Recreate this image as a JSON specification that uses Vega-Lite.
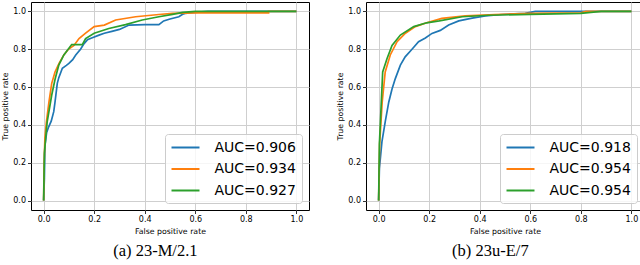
{
  "$schema": "https://vega.github.io/schema/vega-lite/v6.json",
  "padding": {"left": 1, "top": 1, "right": 0, "bottom": 0},
  "background": "white",
  "spacing": 26,
  "datasets": {
    "roc": [
      {"p":"a","m":"A","i":0,"x":0,"y":0},{"p":"a","m":"A","i":1,"x":0.003,"y":0.12},{"p":"a","m":"A","i":2,"x":0.005,"y":0.29},{"p":"a","m":"A","i":3,"x":0.012,"y":0.36},{"p":"a","m":"A","i":4,"x":0.02,"y":0.39},{"p":"a","m":"A","i":5,"x":0.03,"y":0.42},{"p":"a","m":"A","i":6,"x":0.04,"y":0.47},{"p":"a","m":"A","i":7,"x":0.045,"y":0.52},{"p":"a","m":"A","i":8,"x":0.054,"y":0.62},{"p":"a","m":"A","i":9,"x":0.06,"y":0.65},{"p":"a","m":"A","i":10,"x":0.074,"y":0.70},{"p":"a","m":"A","i":11,"x":0.09,"y":0.715},{"p":"a","m":"A","i":12,"x":0.10,"y":0.725},{"p":"a","m":"A","i":13,"x":0.115,"y":0.745},{"p":"a","m":"A","i":14,"x":0.127,"y":0.77},{"p":"a","m":"A","i":15,"x":0.146,"y":0.80},{"p":"a","m":"A","i":16,"x":0.16,"y":0.83},{"p":"a","m":"A","i":17,"x":0.173,"y":0.85},{"p":"a","m":"A","i":18,"x":0.19,"y":0.86},{"p":"a","m":"A","i":19,"x":0.219,"y":0.875},{"p":"a","m":"A","i":20,"x":0.24,"y":0.885},{"p":"a","m":"A","i":21,"x":0.27,"y":0.895},{"p":"a","m":"A","i":22,"x":0.30,"y":0.905},{"p":"a","m":"A","i":23,"x":0.338,"y":0.928},{"p":"a","m":"A","i":24,"x":0.40,"y":0.93},{"p":"a","m":"A","i":25,"x":0.456,"y":0.93},{"p":"a","m":"A","i":26,"x":0.475,"y":0.95},{"p":"a","m":"A","i":27,"x":0.50,"y":0.96},{"p":"a","m":"A","i":28,"x":0.535,"y":0.972},{"p":"a","m":"A","i":29,"x":0.55,"y":0.985},{"p":"a","m":"A","i":30,"x":0.56,"y":0.99},{"p":"a","m":"A","i":31,"x":0.60,"y":0.995},{"p":"a","m":"A","i":32,"x":0.65,"y":1.0},{"p":"a","m":"A","i":33,"x":1,"y":1},
      {"p":"a","m":"B","i":0,"x":0,"y":0},{"p":"a","m":"B","i":1,"x":0.002,"y":0.2},{"p":"a","m":"B","i":2,"x":0.005,"y":0.33},{"p":"a","m":"B","i":3,"x":0.011,"y":0.416},{"p":"a","m":"B","i":4,"x":0.021,"y":0.52},{"p":"a","m":"B","i":5,"x":0.032,"y":0.62},{"p":"a","m":"B","i":6,"x":0.045,"y":0.68},{"p":"a","m":"B","i":7,"x":0.061,"y":0.725},{"p":"a","m":"B","i":8,"x":0.08,"y":0.77},{"p":"a","m":"B","i":9,"x":0.098,"y":0.80},{"p":"a","m":"B","i":10,"x":0.12,"y":0.82},{"p":"a","m":"B","i":11,"x":0.14,"y":0.857},{"p":"a","m":"B","i":12,"x":0.166,"y":0.885},{"p":"a","m":"B","i":13,"x":0.2,"y":0.92},{"p":"a","m":"B","i":14,"x":0.24,"y":0.928},{"p":"a","m":"B","i":15,"x":0.285,"y":0.955},{"p":"a","m":"B","i":16,"x":0.364,"y":0.972},{"p":"a","m":"B","i":17,"x":0.456,"y":0.984},{"p":"a","m":"B","i":18,"x":0.51,"y":0.99},{"p":"a","m":"B","i":19,"x":0.6,"y":0.993},{"p":"a","m":"B","i":20,"x":0.89,"y":0.993},{"p":"a","m":"B","i":21,"x":0.89,"y":1.0},{"p":"a","m":"B","i":22,"x":1,"y":1},
      {"p":"a","m":"C","i":0,"x":0,"y":0},{"p":"a","m":"C","i":1,"x":0.003,"y":0.25},{"p":"a","m":"C","i":2,"x":0.008,"y":0.33},{"p":"a","m":"C","i":3,"x":0.014,"y":0.416},{"p":"a","m":"C","i":4,"x":0.032,"y":0.558},{"p":"a","m":"C","i":5,"x":0.045,"y":0.64},{"p":"a","m":"C","i":6,"x":0.06,"y":0.716},{"p":"a","m":"C","i":7,"x":0.08,"y":0.77},{"p":"a","m":"C","i":8,"x":0.111,"y":0.825},{"p":"a","m":"C","i":9,"x":0.153,"y":0.825},{"p":"a","m":"C","i":10,"x":0.166,"y":0.857},{"p":"a","m":"C","i":11,"x":0.2,"y":0.885},{"p":"a","m":"C","i":12,"x":0.258,"y":0.91},{"p":"a","m":"C","i":13,"x":0.324,"y":0.93},{"p":"a","m":"C","i":14,"x":0.39,"y":0.955},{"p":"a","m":"C","i":15,"x":0.456,"y":0.972},{"p":"a","m":"C","i":16,"x":0.51,"y":0.985},{"p":"a","m":"C","i":17,"x":0.55,"y":0.995},{"p":"a","m":"C","i":18,"x":0.6,"y":1.0},{"p":"a","m":"C","i":19,"x":1,"y":1},
      {"p":"b","m":"A","i":0,"x":0,"y":0},{"p":"b","m":"A","i":1,"x":0.003,"y":0.17},{"p":"b","m":"A","i":2,"x":0.013,"y":0.31},{"p":"b","m":"A","i":3,"x":0.026,"y":0.416},{"p":"b","m":"A","i":4,"x":0.04,"y":0.52},{"p":"b","m":"A","i":5,"x":0.053,"y":0.59},{"p":"b","m":"A","i":6,"x":0.066,"y":0.645},{"p":"b","m":"A","i":7,"x":0.086,"y":0.716},{"p":"b","m":"A","i":8,"x":0.105,"y":0.76},{"p":"b","m":"A","i":9,"x":0.132,"y":0.80},{"p":"b","m":"A","i":10,"x":0.158,"y":0.84},{"p":"b","m":"A","i":11,"x":0.185,"y":0.86},{"p":"b","m":"A","i":12,"x":0.211,"y":0.884},{"p":"b","m":"A","i":13,"x":0.244,"y":0.90},{"p":"b","m":"A","i":14,"x":0.277,"y":0.928},{"p":"b","m":"A","i":15,"x":0.317,"y":0.95},{"p":"b","m":"A","i":16,"x":0.37,"y":0.965},{"p":"b","m":"A","i":17,"x":0.422,"y":0.977},{"p":"b","m":"A","i":18,"x":0.488,"y":0.984},{"p":"b","m":"A","i":19,"x":0.58,"y":0.99},{"p":"b","m":"A","i":20,"x":0.62,"y":1.0},{"p":"b","m":"A","i":21,"x":1,"y":1},
      {"p":"b","m":"B","i":0,"x":0,"y":0},{"p":"b","m":"B","i":1,"x":0.004,"y":0.3},{"p":"b","m":"B","i":2,"x":0.014,"y":0.52},{"p":"b","m":"B","i":3,"x":0.026,"y":0.68},{"p":"b","m":"B","i":4,"x":0.046,"y":0.77},{"p":"b","m":"B","i":5,"x":0.073,"y":0.84},{"p":"b","m":"B","i":6,"x":0.106,"y":0.885},{"p":"b","m":"B","i":7,"x":0.145,"y":0.92},{"p":"b","m":"B","i":8,"x":0.19,"y":0.94},{"p":"b","m":"B","i":9,"x":0.25,"y":0.963},{"p":"b","m":"B","i":10,"x":0.343,"y":0.977},{"p":"b","m":"B","i":11,"x":0.46,"y":0.984},{"p":"b","m":"B","i":12,"x":0.6,"y":0.99},{"p":"b","m":"B","i":13,"x":0.8,"y":0.993},{"p":"b","m":"B","i":14,"x":0.82,"y":1.0},{"p":"b","m":"B","i":15,"x":1,"y":1},
      {"p":"b","m":"C","i":0,"x":0,"y":0},{"p":"b","m":"C","i":1,"x":0.003,"y":0.3},{"p":"b","m":"C","i":2,"x":0.007,"y":0.416},{"p":"b","m":"C","i":3,"x":0.016,"y":0.68},{"p":"b","m":"C","i":4,"x":0.033,"y":0.75},{"p":"b","m":"C","i":5,"x":0.053,"y":0.82},{"p":"b","m":"C","i":6,"x":0.086,"y":0.875},{"p":"b","m":"C","i":7,"x":0.139,"y":0.92},{"p":"b","m":"C","i":8,"x":0.19,"y":0.94},{"p":"b","m":"C","i":9,"x":0.24,"y":0.95},{"p":"b","m":"C","i":10,"x":0.33,"y":0.972},{"p":"b","m":"C","i":11,"x":0.435,"y":0.98},{"p":"b","m":"C","i":12,"x":0.6,"y":0.985},{"p":"b","m":"C","i":13,"x":0.8,"y":0.99},{"p":"b","m":"C","i":14,"x":0.88,"y":1.0},{"p":"b","m":"C","i":15,"x":1,"y":1}
    ]
  },
  "hconcat": [
    {
      "width": 278,
      "height": 208,
      "title": {"text": "(a) 23-M/2.1", "orient": "bottom", "anchor": "middle", "frame": "bounds", "offset": 8},
      "data": {"name": "roc"},
      "transform": [{"filter": "datum.p == 'a'"}],
      "mark": {"type": "line", "strokeWidth": 1.7, "clip": true},
      "encoding": {
        "x": {"field": "x", "type": "quantitative", "title": "False positive rate", "scale": {"domain": [-0.05, 1.05], "nice": false, "zero": false}, "axis": {"values": [0, 0.2, 0.4, 0.6, 0.8, 1], "format": ".1f"}},
        "y": {"field": "y", "type": "quantitative", "title": "True positive rate", "scale": {"domain": [-0.05, 1.05], "nice": false, "zero": false}, "axis": {"values": [0, 0.2, 0.4, 0.6, 0.8, 1], "format": ".1f"}},
        "color": {"field": "m", "type": "nominal", "scale": {"domain": ["A", "B", "C"], "range": ["#1f77b4", "#ff7f0e", "#2ca02c"]}, "legend": {"labelExpr": "datum.label == 'A' ? 'AUC=0.906' : datum.label == 'B' ? 'AUC=0.934' : 'AUC=0.927'"}},
        "order": {"field": "i", "type": "quantitative"}
      }
    },
    {
      "width": 278,
      "height": 208,
      "title": {"text": "(b) 23u-E/7", "orient": "bottom", "anchor": "middle", "frame": "bounds", "offset": 8},
      "data": {"name": "roc"},
      "transform": [{"filter": "datum.p == 'b'"}],
      "mark": {"type": "line", "strokeWidth": 1.7, "clip": true},
      "encoding": {
        "x": {"field": "x", "type": "quantitative", "title": "False positive rate", "scale": {"domain": [-0.05, 1.05], "nice": false, "zero": false}, "axis": {"values": [0, 0.2, 0.4, 0.6, 0.8, 1], "format": ".1f"}},
        "y": {"field": "y", "type": "quantitative", "title": "True positive rate", "scale": {"domain": [-0.05, 1.05], "nice": false, "zero": false}, "axis": {"values": [0, 0.2, 0.4, 0.6, 0.8, 1], "format": ".1f"}},
        "color": {"field": "m", "type": "nominal", "scale": {"domain": ["A", "B", "C"], "range": ["#1f77b4", "#ff7f0e", "#2ca02c"]}, "legend": {"labelExpr": "datum.label == 'A' ? 'AUC=0.918' : datum.label == 'B' ? 'AUC=0.954' : 'AUC=0.954'"}},
        "order": {"field": "i", "type": "quantitative"}
      }
    }
  ],
  "resolve": {"legend": {"color": "independent"}, "scale": {"x": "independent", "y": "independent"}},
  "config": {
    "view": {"stroke": "black", "strokeWidth": 1},
    "axis": {
      "grid": true, "gridColor": "#cfcfcf", "gridWidth": 1, "domain": false,
      "tickColor": "black", "tickSize": 3.5, "tickWidth": 0.8,
      "labelFont": "DejaVu Sans", "labelFontSize": 8, "labelColor": "black", "labelPadding": 2,
      "titleFont": "DejaVu Sans", "titleFontSize": 7.8, "titleFontWeight": "normal", "titleColor": "black"
    },
    "axisX": {"titlePadding": 4},
    "axisY": {"titlePadding": 3},
    "legend": {
      "orient": "bottom-right", "offset": 7, "title": null,
      "symbolType": "M-1,0H3", "symbolSize": 196, "symbolStrokeWidth": 2, "symbolFillColor": "transparent",
      "labelFont": "DejaVu Sans", "labelFontSize": 14, "labelColor": "black", "labelOffset": 28,
      "rowPadding": 6.5, "padding": 5.5, "strokeColor": "#cccccc", "fillColor": "rgba(255,255,255,0.8)", "cornerRadius": 3
    },
    "title": {"font": "Liberation Serif", "fontSize": 16.5, "fontWeight": "normal", "color": "black"}
  }
}
